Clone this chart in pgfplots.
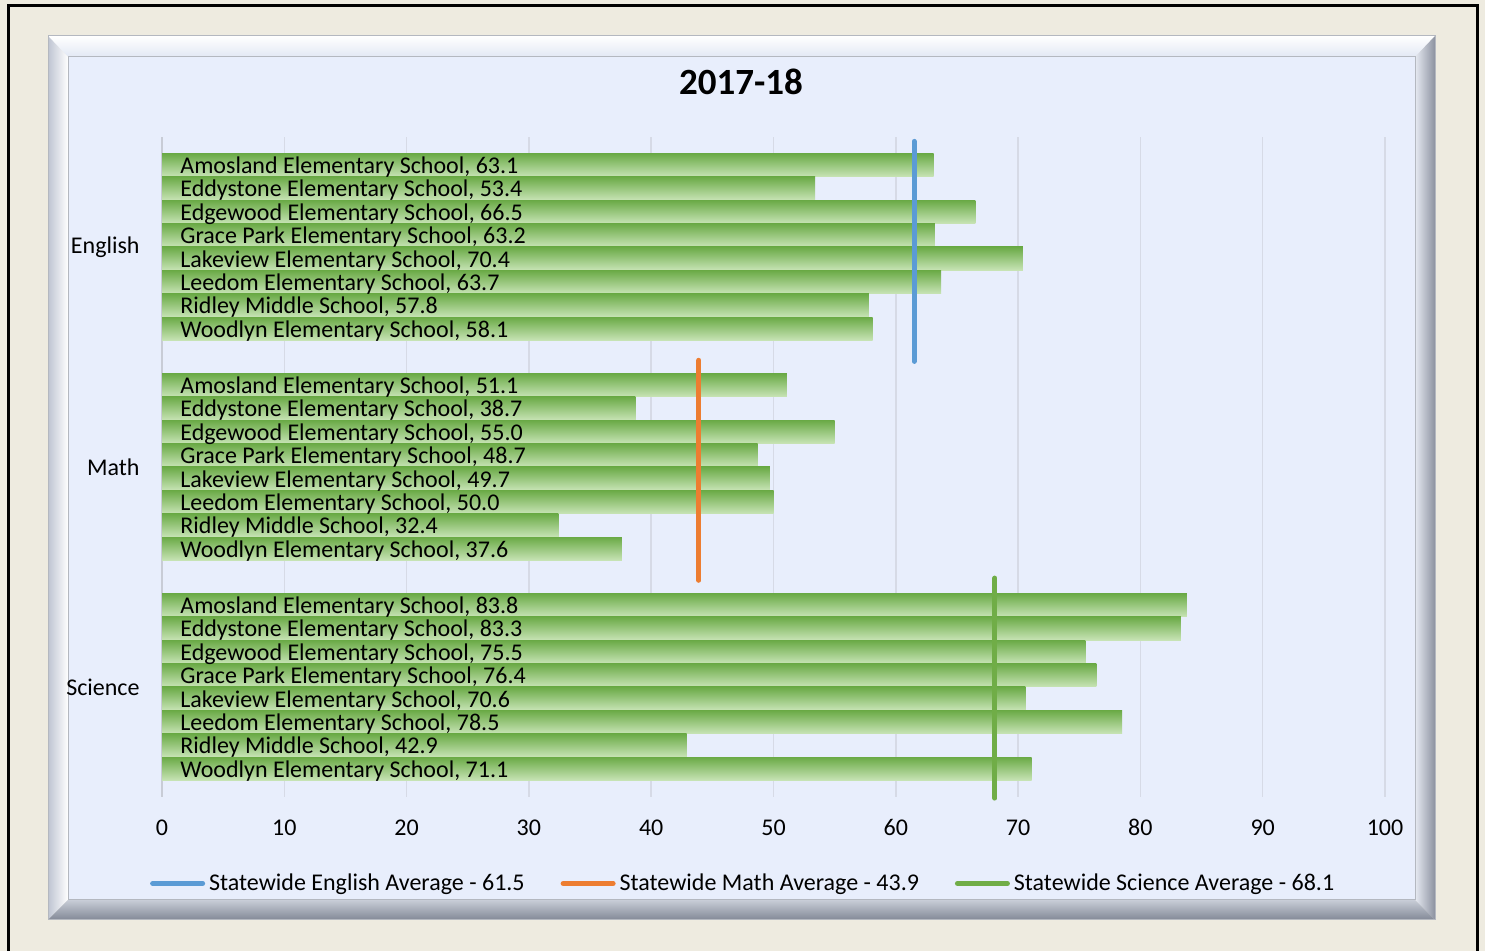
\documentclass[border=0pt]{standalone}
\usepackage{pgfplots}
\pgfplotsset{compat=1.18}
\usepackage{pgfplotstable}
\usepackage{fontspec}
\setmainfont{Carlito}
\definecolor{bg}{RGB}{238,235,224}
\definecolor{innerc}{RGB}{232,238,252}
\definecolor{barTop}{RGB}{106,170,70}
\definecolor{barBot}{RGB}{200,228,182}
\definecolor{engc}{RGB}{91,155,213}
\definecolor{mathc}{RGB}{237,125,49}
\definecolor{scic}{RGB}{112,173,71}
\definecolor{gridc}{RGB}{214,218,230}
\definecolor{axc}{RGB}{200,204,214}
\definecolor{bevA}{RGB}{226,232,244}
\definecolor{bevB}{RGB}{190,196,210}
\definecolor{bevC}{RGB}{230,234,242}
\definecolor{bevD}{RGB}{140,146,160}
\definecolor{bevE}{RGB}{200,205,215}
\definecolor{bevF}{RGB}{130,136,150}
\definecolor{edge}{RGB}{180,184,192}

\pgfplotstableread[col sep=semicolon]{
y;v;label
2.871875;63.1;Amosland Elementary School, 63.1
2.765625;53.4;Eddystone Elementary School, 53.4
2.659375;66.5;Edgewood Elementary School, 66.5
2.553125;63.2;Grace Park Elementary School, 63.2
2.446875;70.4;Lakeview Elementary School, 70.4
2.340625;63.7;Leedom Elementary School, 63.7
2.234375;57.8;Ridley Middle School, 57.8
2.128125;58.1;Woodlyn Elementary School, 58.1
1.871875;51.1;Amosland Elementary School, 51.1
1.765625;38.7;Eddystone Elementary School, 38.7
1.659375;55.0;Edgewood Elementary School, 55.0
1.553125;48.7;Grace Park Elementary School, 48.7
1.446875;49.7;Lakeview Elementary School, 49.7
1.340625;50.0;Leedom Elementary School, 50.0
1.234375;32.4;Ridley Middle School, 32.4
1.128125;37.6;Woodlyn Elementary School, 37.6
0.871875;83.8;Amosland Elementary School, 83.8
0.765625;83.3;Eddystone Elementary School, 83.3
0.659375;75.5;Edgewood Elementary School, 75.5
0.553125;76.4;Grace Park Elementary School, 76.4
0.446875;70.6;Lakeview Elementary School, 70.6
0.340625;78.5;Leedom Elementary School, 78.5
0.234375;42.9;Ridley Middle School, 42.9
0.128125;71.1;Woodlyn Elementary School, 71.1
}\data

\begin{document}
\begin{tikzpicture}
\begin{scope}[x=0.5pt,y=0.5pt]
\fill[bg] (0,0) rectangle (1485,951);
\useasboundingbox (0,0) rectangle (1485,951);
\draw[black, line width=1.5pt] (8,0)--(8,945)--(1477,945)--(1477,0);
\shade[top color=white, bottom color=bevA] (48,915)--(1435,915)--(1415,894)--(68,894)--cycle;
\shade[left color=bevB, right color=white] (48,31)--(48,915)--(68,894)--(68,51)--cycle;
\shade[left color=bevC, right color=bevD] (1435,915)--(1435,31)--(1415,51)--(1415,894)--cycle;
\shade[top color=bevE, bottom color=bevF] (48,31)--(1435,31)--(1415,51)--(68,51)--cycle;
\draw[edge, line width=0.5pt] (48,31) rectangle (1435,915);
\fill[innerc] (68,51) rectangle (1415,894);
\draw[edge, line width=0.5pt] (68,51) rectangle (1415,894);
\end{scope}
\node[font=\fontsize{18.5}{22}\selectfont\bfseries] at (370.5pt,434.5pt) {2017-18};
\begin{axis}[
  at={(81pt,77pt)}, anchor=south west,
  scale only axis, width=611.5pt, height=330pt,
  xmin=0, xmax=100, ymin=0, ymax=3,
  clip=false,
  axis lines*=left,
  x axis line style={draw=none},
  y axis line style={draw=axc, line width=0.75pt},
  xtick={0,10,...,100},
  xmajorgrids, grid style={gridc, line width=0.75pt},
  xtick style={draw=none},
  ytick={0.5,1.5,2.5},
  yticklabels={Science,Math,English},
  ytick style={draw=none},
  extra y ticks={0,1,2,3},
  extra y tick labels={},
  extra y tick style={tick style={draw=axc, line width=0.75pt}, major tick length=3.5pt, tick align=outside, ymajorgrids=false},
  tick label style={font=\fontsize{12}{14}\selectfont},
  /pgf/number format/assume math mode=true,
  xticklabel style={anchor=base, yshift=-19.5pt},
  yticklabel style={anchor=east, inner sep=0pt, xshift=-11pt},
  legend style={at={(0.476,-0.131)}, anchor=center, draw=none, fill=none,
    legend columns=3, font=\fontsize{12}{14}\selectfont,
    /tikz/every even column/.append style={column sep=16pt},
    nodes={inner sep=2pt}},
  legend image code/.code={\draw[#1] (1.25pt,0pt) -- (26.25pt,0pt);},
]
\pgfplotsinvokeforeach{0,...,23}{
\addplot[xbar, bar shift=0pt, bar width=0.10625, draw=none, top color=barTop, bottom color=barBot, forget plot,
  restrict expr to domain={\coordindex}{#1:#1}]
  table[x=v, y=y]{\data};
}
\addplot[draw=none, mark=none, forget plot, nodes near coords, point meta=explicit symbolic,
  nodes near coords style={anchor=west, inner sep=0pt, xshift=9pt, yshift=-1pt, text=black, font=\fontsize{12}{14}\selectfont}]
  table[x expr=0, y=y, meta=label]{\data};
\addplot[engc, line width=2.5pt, line cap=round] coordinates {(61.5,2.98) (61.5,1.98)};
\addlegendentry{Statewide English Average - 61.5}
\addplot[mathc, line width=2.5pt, line cap=round] coordinates {(43.9,1.985) (43.9,0.985)};
\addlegendentry{Statewide Math Average - 43.9}
\addplot[scic, line width=2.5pt, line cap=round] coordinates {(68.1,0.995) (68.1,-0.005)};
\addlegendentry{Statewide Science Average - 68.1}
\end{axis}
\end{tikzpicture}
\end{document}
